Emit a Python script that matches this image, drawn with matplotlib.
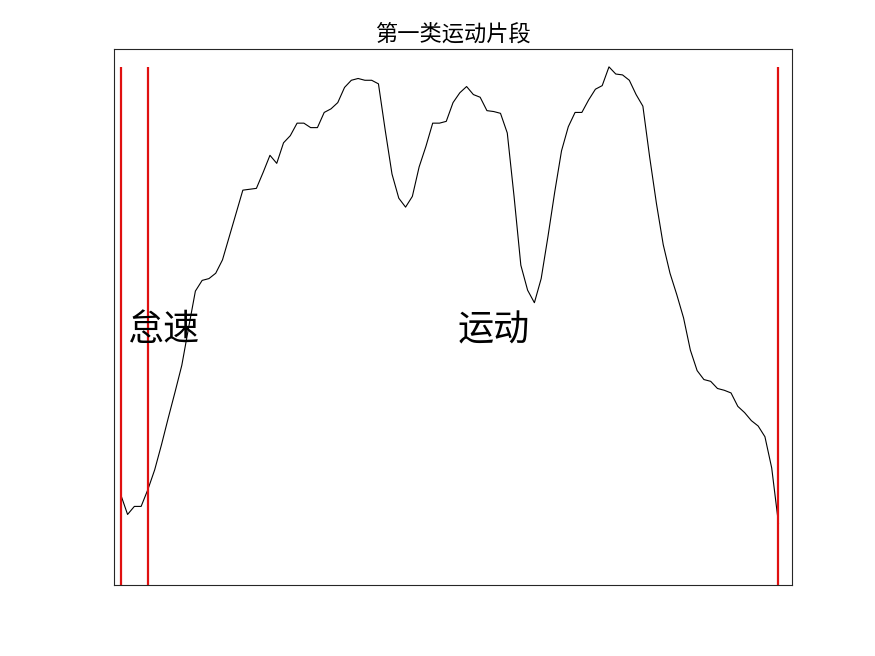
import numpy as np
import matplotlib
matplotlib.use('Agg')
import matplotlib.pyplot as plt

plt.rcParams['font.family'] = ['Noto Sans CJK SC', 'DejaVu Sans']

# speed trace of the segment (one value per second)
t = np.arange(1, 99)
speed = [10.1, 7.9, 8.8, 8.8, 10.7, 12.9, 15.7, 18.7, 21.6, 24.6,
         28.8, 32.9, 34.1, 34.3, 34.9, 36.4, 39.0, 41.6, 44.2, 44.3,
         44.4, 46.2, 48.1, 47.2, 49.5, 50.3, 51.7, 51.7, 51.2, 51.2,
         52.9, 53.3, 54.0, 55.7, 56.5, 56.7, 56.5, 56.5, 56.1, 50.9,
         46.0, 43.3, 42.3, 43.5, 46.8, 49.1, 51.7, 51.7, 51.9, 54.0,
         55.1, 55.8, 54.9, 54.6, 53.1, 53.0, 52.8, 50.6, 43.5, 35.8,
         33.0, 31.6, 34.3, 39.0, 44.0, 48.6, 51.3, 52.9, 52.9, 54.3,
         55.5, 55.9, 58.0, 57.2, 57.1, 56.5, 54.9, 53.6, 47.9, 42.7,
         38.1, 34.9, 32.5, 29.9, 26.3, 24.0, 23.0, 22.8, 22.0, 21.8,
         21.5, 20.0, 19.3, 18.4, 17.8, 16.6, 13.1, 6.9]

# split points: idle part / driving part
cuts = [1, 5, 98]
labels = ['怠速', '运动']
label_x = [2, 50.7]
label_y = 28.5

fig = plt.figure(figsize=(8.75, 6.56), dpi=100)
ax = fig.add_axes([0.1303, 0.1082, 0.7749, 0.8171])

ax.plot(t, speed, color='black', lw=0.8)
ax.vlines(cuts, 0, max(speed), colors='#e01010', lw=1.6)

for s, x in zip(labels, label_x):
    ax.text(x, label_y, s, fontsize=26, ha='left', va='center')

ax.set_xlim(0, 100)
ax.set_ylim(0, 60)
ax.set_xticks([])
ax.set_yticks([])
for sp in ax.spines.values():
    sp.set_linewidth(0.8)
    sp.set_color('#262626')

ax.set_title('第一类运动片段', fontsize=16, pad=6)

fig.savefig('out.png', dpi=100)
